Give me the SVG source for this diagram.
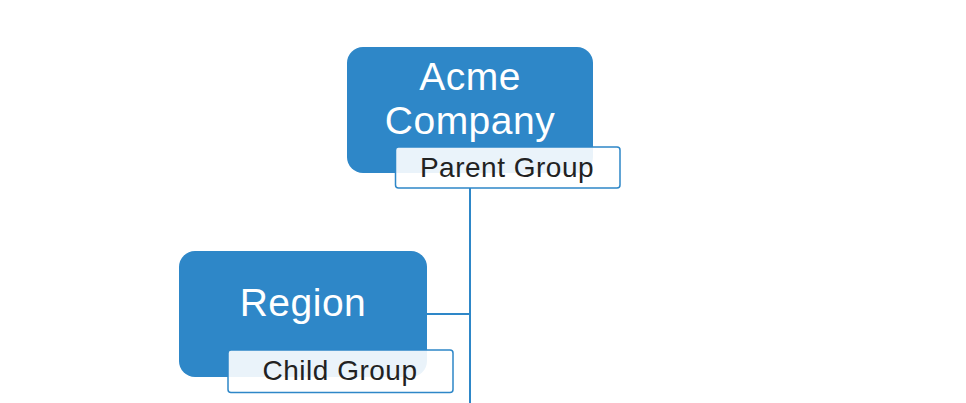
<svg xmlns="http://www.w3.org/2000/svg" width="966" height="403" viewBox="0 0 966 403">
<style>
.box{fill:#2E87C8}
.lab{fill:#ffffff;fill-opacity:0.9;stroke:#2E87C8;stroke-width:1.5}
.t1{font-family:"Liberation Sans","Noto Sans",sans-serif;font-size:39px;letter-spacing:0.5px;fill:#ffffff;text-anchor:middle}
.t2{font-family:"Liberation Sans","Noto Sans",sans-serif;font-size:28px;letter-spacing:0.5px;fill:#222222;text-anchor:middle}
.conn{stroke:#2E87C8;stroke-width:2;fill:none}
</style>
<g id="connectors">
<path class="conn" d="M470 188 V403"/>
<path class="conn" d="M427 314 H470"/>
</g>
<g id="acme">
<rect class="box" x="347" y="47" width="246" height="126" rx="16"/>
<text class="t1" x="470" y="90">Acme</text>
<text class="t1" x="470" y="134">Company</text>
<rect class="lab" x="395.5" y="147" width="224.5" height="41" rx="3"/>
<text class="t2" x="507" y="177">Parent Group</text>
</g>
<g id="region">
<rect class="box" x="179" y="251" width="248" height="126" rx="16"/>
<text class="t1" x="303" y="316">Region</text>
<rect class="lab" x="228" y="350" width="225" height="42.5" rx="3"/>
<text class="t2" x="340" y="380">Child Group</text>
</g>
</svg>
